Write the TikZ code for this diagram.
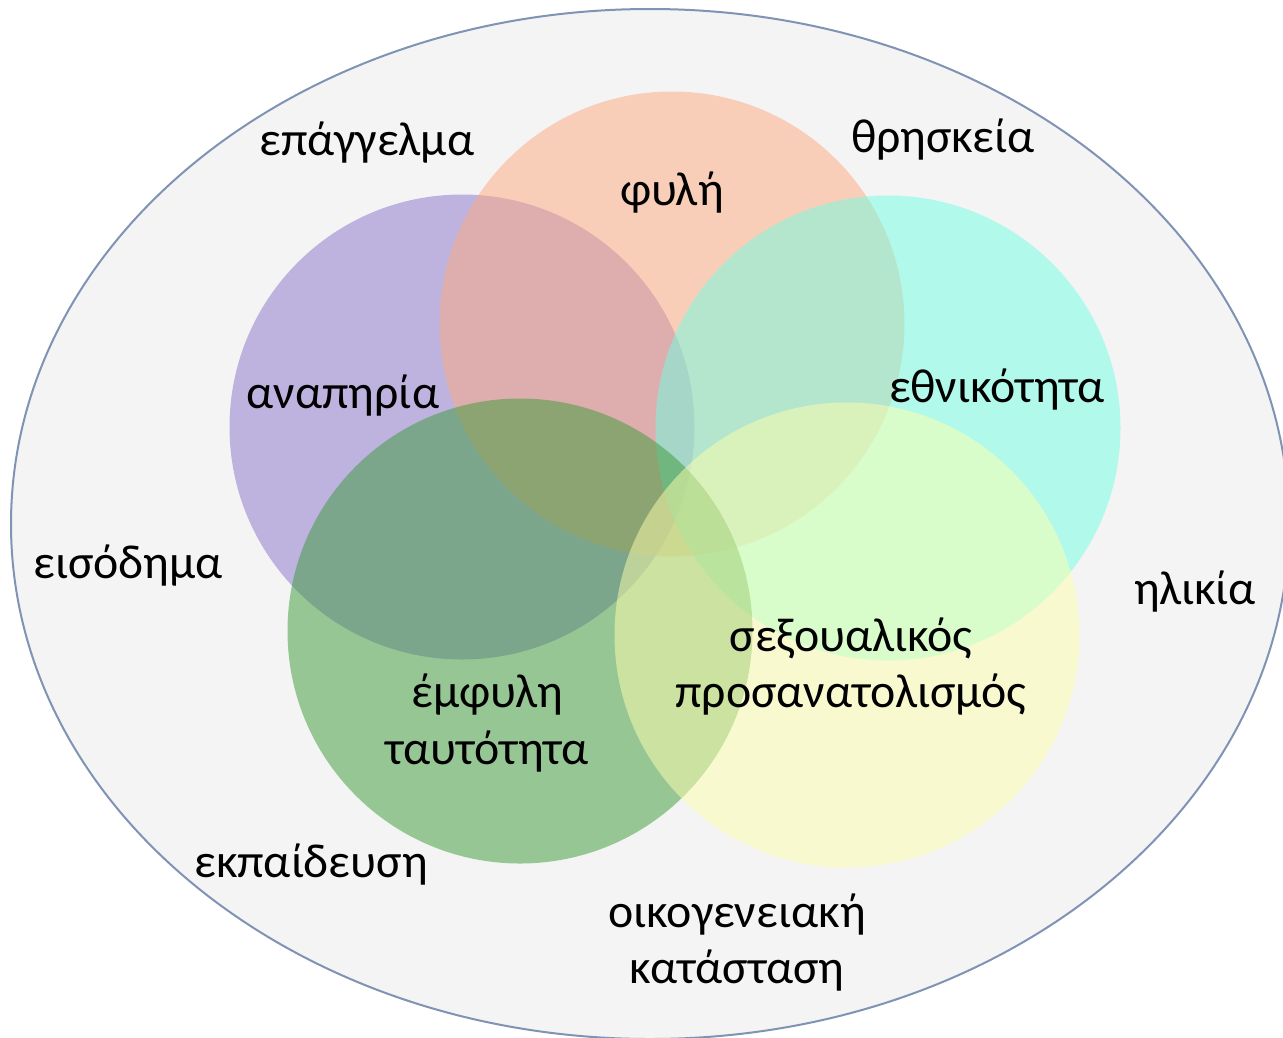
\documentclass[tikz,border=0pt]{standalone}
\usepackage{fontspec}
\setmainfont{Carlito}
\usetikzlibrary{shapes.geometric}
\definecolor{bgfill}{RGB}{244,244,244}
\definecolor{bgline}{RGB}{127,147,180}
\definecolor{cpurple}{RGB}{138,116,204}
\definecolor{cpink}{RGB}{255,170,126}
\definecolor{ccyan}{RGB}{112,255,226}
\definecolor{cgreen}{RGB}{60,154,56}
\definecolor{cyellow}{RGB}{255,255,172}
\tikzset{
  venn/.style={circle, minimum size=465pt, inner sep=0pt, fill opacity=0.5},
  lbl/.style={anchor=base, inner sep=0pt, font=\fontsize{47.8}{57}\selectfont, text=black}
}
\begin{document}
\begin{tikzpicture}[x=1pt,y=-1pt]
\useasboundingbox (0,0) rectangle (1283,1037);
\node[ellipse, draw=bgline, line width=2pt, fill=bgfill, minimum width=1278pt, minimum height=1030pt, inner sep=0pt] (outer) at (650,524) {};
\node[venn, fill=cpurple] (purple) at (462,427) {};
\node[venn, fill=cpink] (pink) at (672,324) {};
\node[venn, fill=ccyan] (cyan) at (888,428) {};
\node[venn, fill=cgreen] (green) at (520,631) {};
\node[venn, fill=cyellow] (yellow) at (847,635) {};
\node[lbl] (epag) at (367,155) {επάγγελμα};
\node[lbl] (thri) at (943,152) {θρησκεία};
\node[lbl] (fyli) at (672,205) {φυλή};
\node[lbl] (anap) at (343,408) {αναπηρία};
\node[lbl] (ethn) at (997,402) {εθνικότητα};
\node[lbl] (eiso) at (128,578) {εισόδημα};
\node[lbl] (ilik) at (1195,604) {ηλικία};
\node[lbl] (sexa) at (851,651) {σεξουαλικός};
\node[lbl] (sexb) at (851,707) {προσανατολισμός};
\node[lbl] (emfa) at (487,707) {έμφυλη};
\node[lbl] (emfb) at (487,764) {ταυτότητα};
\node[lbl] (ekpa) at (311,877) {εκπαίδευση};
\node[lbl] (oika) at (737,927) {οικογενειακή};
\node[lbl] (oikb) at (737,983) {κατάσταση};
\end{tikzpicture}
\end{document}
